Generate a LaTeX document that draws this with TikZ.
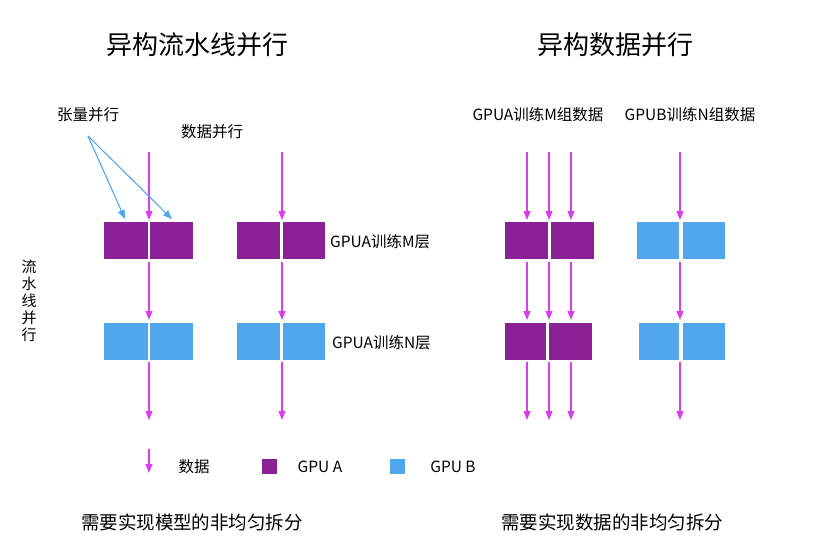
\documentclass[tikz,border=0pt]{standalone}
\usepackage{fontspec}
\setmainfont{Noto Sans CJK SC}
\usetikzlibrary{arrows.meta}
\definecolor{pa}{HTML}{8A2196}
\definecolor{pb}{HTML}{50A7EC}
\definecolor{ar}{HTML}{D63FEA}
\tikzset{x=1pt,y=-1pt,
 da/.style={draw=ar,line width=1.1pt,-{Triangle[width=7pt,length=9pt]}},
 ta/.style={draw=pb,line width=1.1pt,-{Triangle[width=7pt,length=9pt]}},
 lbl/.style={font=\fontsize{15.5}{18}\selectfont,inner sep=0},
 ttl/.style={font=\fontsize{26}{30}\selectfont,inner sep=0},
 sub/.style={font=\fontsize{18.5}{22}\selectfont,inner sep=0}}
\newcommand\pairbox[6]{% style, x1,x2,x3,x4 , y
 \fill[#1] (#2,#6) rectangle (#3,#6+37);
 \fill[#1] (#4,#6) rectangle (#5,#6+37);}
\begin{document}
\begin{tikzpicture}
\useasboundingbox (0,0) rectangle (828,558);
\node[ttl] (t1) at (197,45) {异构流水线并行};
\node[ttl] (t2) at (615,45) {异构数据并行};
\node[sub] (s1) at (192,522) {需要实现模型的非均匀拆分};
\node[sub] (s2) at (612,522) {需要实现数据的非均匀拆分};
% boxes
\pairbox{pa}{104}{148}{150}{193}{222}
\pairbox{pa}{237}{280}{283}{325}{222}
\pairbox{pb}{104}{148}{150}{193}{323}
\pairbox{pb}{237}{280}{283}{325}{323}
\pairbox{pa}{505}{548}{551}{594}{222}
\pairbox{pa}{505}{546}{549}{592}{323}
\pairbox{pb}{637}{679}{683}{725}{222}
\pairbox{pb}{639}{679}{683}{725}{323}
% arrows
\foreach \x in {149,282,527,549,571,680}{
 \coordinate (a\x) at (\x,152); \coordinate (b\x) at (\x,220);
 \coordinate (c\x) at (\x,262); \coordinate (d\x) at (\x,320);
 \coordinate (e\x) at (\x,362); \coordinate (f\x) at (\x,420);
 \draw[da] (a\x) -- (b\x);
 \draw[da] (c\x) -- (d\x);
 \draw[da] (e\x) -- (f\x);}
% labels
\node[lbl] (tp) at (88,115) {张量并行};
\coordinate (tpo) at (88,136);
\coordinate (tp1) at (125,219);
\coordinate (tp2) at (172,219);
\draw[ta] (tpo) -- (tp1);
\draw[ta] (tpo) -- (tp2);
\node[lbl] (dp) at (212,132) {数据并行};
\node[lbl,anchor=west] (m) at (330,242) {GPUA训练M层};
\node[lbl,anchor=west] (n) at (332,343) {GPUA训练N层};
\node[lbl,align=center,font=\fontsize{15}{17}\selectfont] (pp) at (29,301) {流\\水\\线\\并\\行};
\node[lbl] (gm) at (538,115) {GPUA训练M组数据};
\node[lbl] (gn) at (690,115) {GPUB训练N组数据};
% legend
\coordinate (l1) at (149,449); \coordinate (l2) at (149,473);
\draw[da] (l1) -- (l2);
\node[lbl] (ld) at (194,467) {数据};
\fill[pa] (262,459) rectangle (277,474);
\node[lbl] (la) at (320,467) {GPU A};
\fill[pb] (390,459) rectangle (405,474);
\node[lbl] (lb) at (453,467) {GPU B};
\end{tikzpicture}
\end{document}
